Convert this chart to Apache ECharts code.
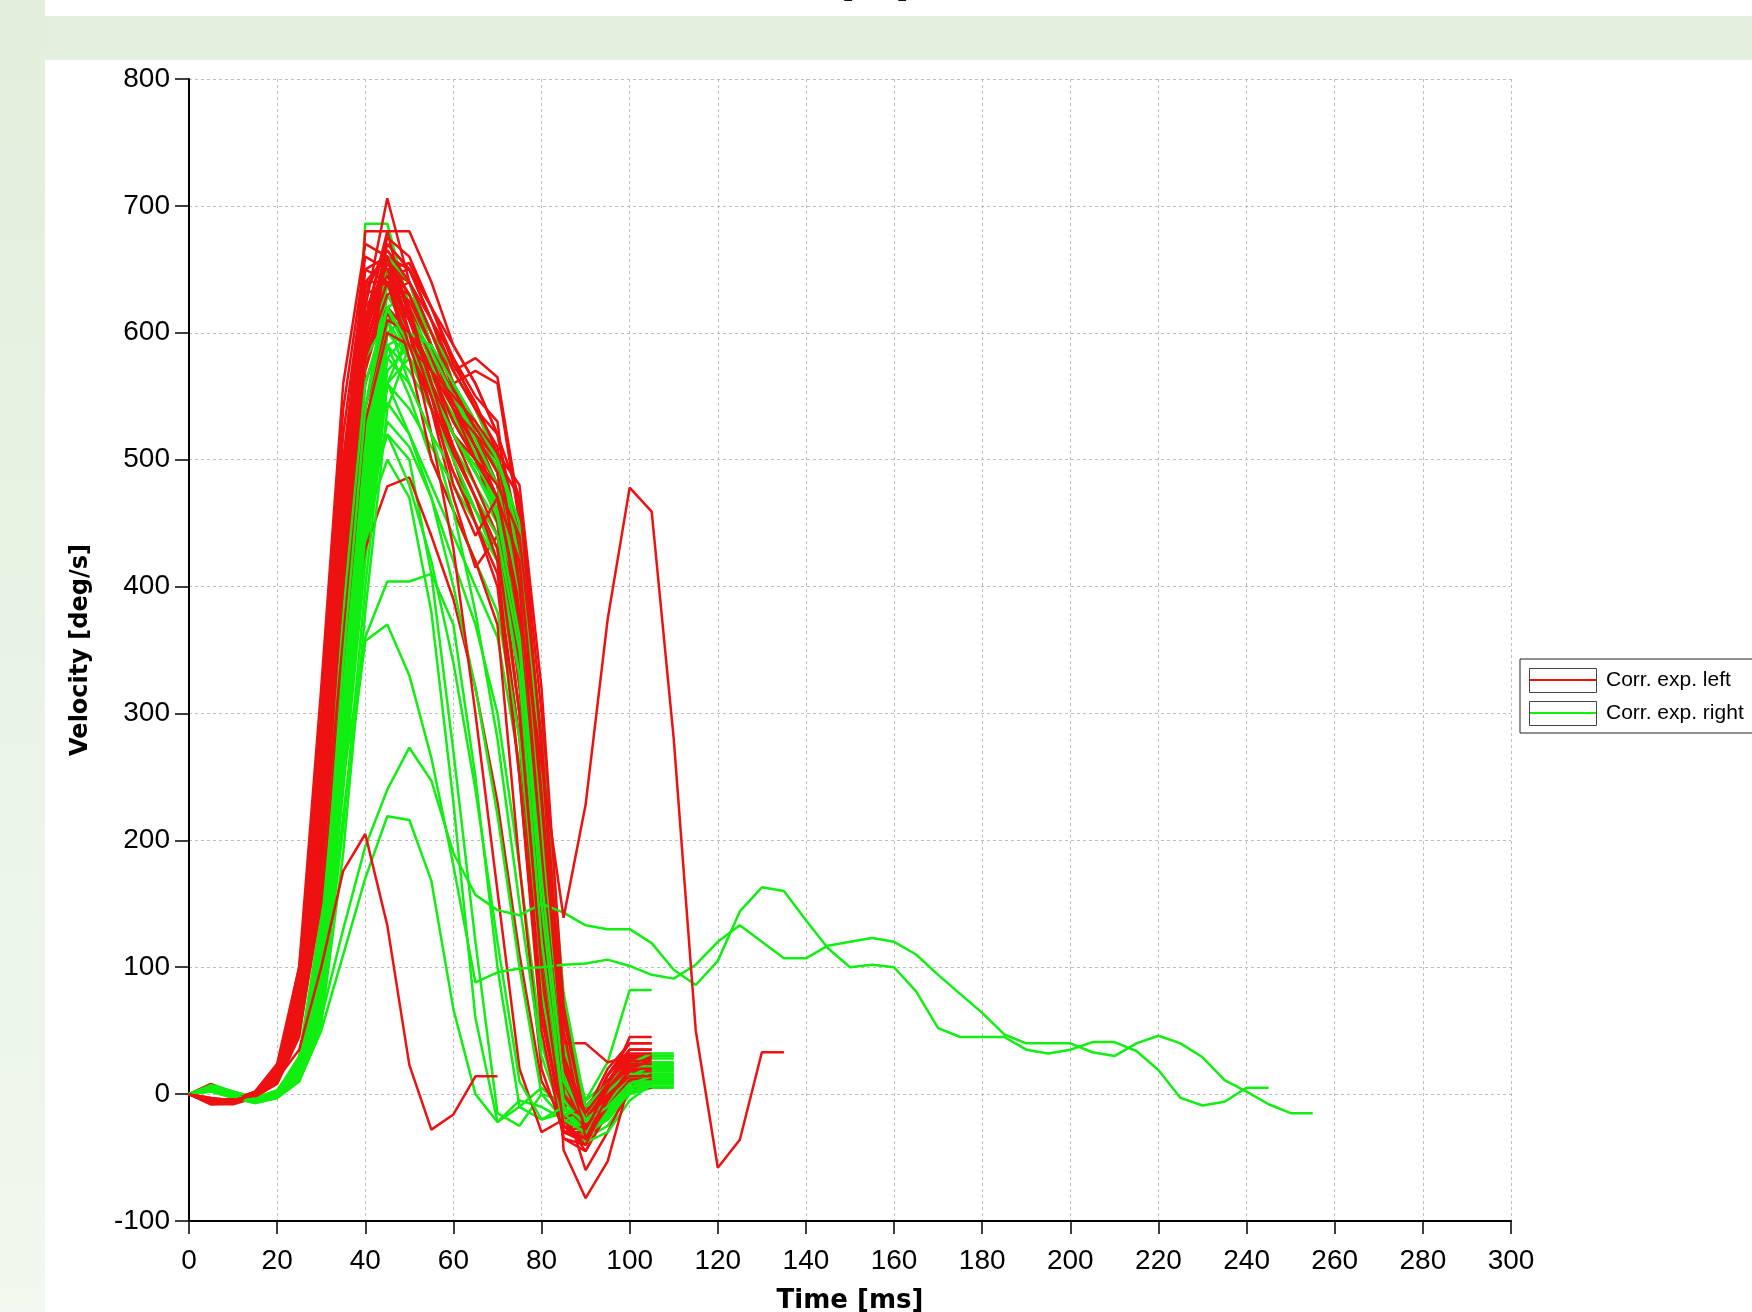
<!DOCTYPE html>
<html lang="en">
<head>
    <meta charset="UTF-8">
    <title>Corr. exp. velocity</title>
    <script src="https://cdn.jsdelivr.net/npm/echarts/dist/echarts.min.js"></script>
    <style>
        html, body { margin: 0; padding: 0; background: #fff; }
        #page { position: relative; width: 1752px; height: 1312px; overflow: hidden; background: #fff; }
        #strip { position: absolute; left: 0; top: 0; width: 45px; height: 1312px;
                 background: linear-gradient(#e2efdc, #f1f8ef); }
        #band { position: absolute; left: 45px; top: 16px; width: 1707px; height: 44px; background: #e4f0df; }
        #chart { position: absolute; left: 0; top: 0; width: 1752px; height: 1312px; }
    </style>
</head>
<body>
<div id="page">
    <div id="strip"></div>
    <div id="band"></div>
    <div id="chart"></div>
</div>

<script>
    // sample times [ms], 5 ms steps
    var time = [0, 5, 10, 15, 20, 25, 30, 35, 40, 45, 50, 55, 60, 65, 70, 75, 80, 85, 90, 95,
        100, 105, 110, 115, 120, 125, 130, 135, 140, 145, 150, 155, 160, 165, 170, 175, 180, 185, 190, 195,
        200, 205, 210, 215, 220, 225, 230, 235, 240, 245, 250, 255];

    // Corr. exp. left (red) velocity curves [deg/s]
    var r01 = [0, -5, -6, 0, 15, 70, 220, 430, 600, 660, 640, 600, 560, 530, 490, 380, 150, -10, -30, 5, 25, 25];
    var r02 = [0, -8, -8, -3, 10, 55, 180, 390, 580, 640, 620, 580, 540, 500, 470, 330, 110, -20, -40, 0, 20, 20];
    var r03 = [0, -3, -5, 2, 22, 95, 260, 480, 630, 670, 650, 610, 570, 540, 500, 420, 200, 10, -20, 15, 35, 35];
    var r04 = [0, 8, -2, 0, 12, 60, 200, 420, 610, 680, 680, 640, 590, 560, 520, 440, 250, 20, -25, 10, 30, 30];
    var r05 = [0, -6, -7, -2, 8, 45, 160, 370, 570, 630, 600, 560, 510, 470, 440, 300, 80, -35, -45, -10, 15, 15];
    var r06 = [0, -4, -4, 1, 18, 80, 240, 460, 620, 706, 640, 590, 550, 510, 480, 360, 130, -15, -35, 5, 20, 20];
    var r07 = [0, -5, -6, 0, 14, 65, 210, 440, 680, 680, 610, 570, 530, 500, 450, 320, 120, -5, -25, 15, 40, 40];
    var r08 = [0, -7, -5, 0, 16, 75, 230, 450, 600, 650, 655, 620, 580, 550, 530, 400, 180, 0, -20, 10, 30, 30];
    var r09 = [0, -5, -5, 1, 20, 85, 250, 470, 640, 660, 620, 560, 500, 460, 430, 300, 90, -30, -38, -5, 10, 10];
    var r10 = [0, -6, -6, -1, 12, 60, 200, 420, 590, 640, 630, 600, 570, 580, 565, 460, 230, 40, -30, 0, 25, 25];
    var r11 = [0, -4, -6, 0, 15, 70, 215, 435, 600, 650, 620, 580, 540, 510, 470, 360, 150, -20, -45, -15, 8, 8];
    var r12 = [0, -8, -7, -2, 10, 50, 175, 400, 590, 645, 650, 610, 560, 520, 490, 390, 170, 0, -30, 5, 45, 45];
    var r13 = [0, -5, -4, 2, 24, 100, 275, 500, 650, 660, 630, 590, 540, 500, 470, 340, 120, -25, -40, 0, 20, 20];
    var r14 = [0, -3, -5, 0, 14, 65, 200, 420, 580, 620, 600, 560, 520, 490, 460, 350, 140, -10, -25, 15, 35, 35];
    var r15 = [0, -6, -6, -1, 13, 60, 195, 410, 585, 655, 640, 600, 555, 525, 500, 410, 210, 20, -15, 20, 40, 40];
    var r16 = [0, -5, -6, 0, 12, 50, 165, 330, 430, 479, 486, 440, 390, 320, 230, 110, 10, -20, -30, 0, 20, 20];
    var r17 = [0, -4, -5, 1, 17, 75, 225, 445, 610, 650, 600, 540, 470, 415, 440, 390, 200, 10, -30, 0, 25, 25];
    var r18 = [0, -6, -6, -1, 11, 55, 185, 400, 575, 640, 625, 590, 550, 520, 480, 370, 160, -5, -60, -30, 5, 5];
    var r19 = [0, -5, -5, 0, 16, 70, 220, 440, 605, 660, 650, 620, 590, 560, 520, 430, 220, -44, -82, -53, 10, 10];
    var r20 = [0, -7, -6, 0, 14, 62, 205, 430, 595, 670, 650, 610, 570, 540, 510, 400, 150, -30, -30, 0, 15, 15];
    var r21 = [0, -5, -6, -1, 13, 60, 200, 425, 590, 650, 640, 590, 545, 510, 480, 380, 170, 40, 40, 25, 30, 30];
    var r22 = [0, -4, -5, 0, 15, 68, 215, 440, 600, 655, 630, 590, 550, 520, 490, 385, 160, -10, -25, 10, 35, 35];
    var r23 = [0, -6, -5, 1, 19, 88, 255, 475, 635, 665, 640, 600, 560, 570, 560, 450, 240, 30, -20, 5, 30, 30];
    var r24 = [0, -5, -7, -1, 11, 52, 175, 390, 560, 615, 590, 550, 500, 450, 410, 280, 70, -30, -35, -5, 18, 18];
    var r25 = [0, -4, -5, 0, 16, 72, 230, 455, 620, 645, 610, 570, 520, 480, 440, 330, 110, -20, -30, 8, 28, 28];
    var r26 = [0, -5, -6, 0, 13, 62, 205, 430, 610, 675, 660, 620, 575, 545, 505, 400, 190, 0, -28, 6, 22, 22];
    var r27 = [0, -6, -5, 0, 18, 90, 300, 540, 660, 650, 610, 560, 510, 470, 420, 250, 60, -25, -35, 0, 22, 22];
    var r28 = [0, -4, -6, -1, 12, 55, 170, 360, 540, 610, 600, 570, 540, 520, 500, 470, 300, 60, -20, 5, 30, 30];
    var r29 = [0, -5, -5, 0, 20, 100, 320, 560, 670, 660, 600, 520, 430, 300, 160, 20, -30, -20, -10, 10, 28, 28];
    var r30 = [0, -7, -7, -2, 9, 48, 150, 340, 530, 600, 590, 570, 550, 530, 505, 480, 320, 70, -25, -5, 18, 18];
    var r31 = [0, -5, -6, 0, 16, 78, 245, 470, 630, 640, 580, 500, 460, 420, 370, 180, 20, -30, -25, 5, 24, 24];
    var r32 = [0, -6, -5, 1, 15, 70, 230, 450, 610, 660, 620, 560, 520, 500, 480, 440, 280, 50, -35, -10, 12, 12];
    var r33 = [0, -4, -4, 1, 21, 95, 290, 520, 650, 640, 590, 540, 490, 450, 400, 250, 50, -35, -40, -5, 20, 20];
    var r34 = [0, -5, -6, -1, 13, 60, 190, 400, 580, 630, 640, 610, 580, 540, 520, 470, 270, 30, -15, 8, 32, 32];
    var r35 = [0, -6, -6, 0, 14, 66, 210, 430, 600, 660, 615, 560, 505, 470, 430, 300, 100, -25, -35, -2, 14, 14];
    var r36 = [0, -5, -5, 0, 17, 82, 265, 490, 640, 640, 600, 550, 480, 440, 470, 420, 230, 25, -28, 4, 26, 26];
    var rSpike = [0, -5, -5, 0, 14, 65, 210, 430, 590, 640, 610, 570, 530, 500, 470, 380, 260, 139, 228, 374,
        478, 459, 280, 50, -58, -36, 33, 33];
    var rLow = [0, -5, -6, 0, 12, 35, 100, 176, 205, 133, 23, -28, -16, 14, 14];

    // Corr. exp. right (green) velocity curves [deg/s]
    var g01 = [0, 5, 0, -5, 0, 20, 90, 280, 470, 600, 590, 560, 530, 500, 470, 380, 180, 20, -20, -10, 10, 15, 15];
    var g02 = [0, 8, 2, -3, 2, 25, 100, 300, 500, 620, 600, 570, 540, 510, 480, 400, 210, 40, -15, 0, 15, 20, 20];
    var g03 = [0, 3, -2, -6, -2, 15, 75, 250, 440, 580, 600, 570, 530, 500, 460, 370, 160, 10, -25, -15, 5, 10, 10];
    var g04 = [0, 6, 1, -4, 1, 22, 120, 420, 686, 686, 620, 575, 550, 520, 490, 410, 230, 50, -10, 5, 20, 25, 25];
    var g05 = [0, 4, -1, -5, 0, 18, 85, 270, 460, 590, 570, 540, 510, 480, 450, 350, 140, 0, -30, -20, 0, 5, 5];
    var g06 = [0, 7, 2, -3, 3, 28, 110, 320, 520, 630, 600, 575, 550, 530, 500, 420, 240, 60, -5, 10, 25, 30, 30];
    var g07 = [0, 5, 0, -4, 0, 20, 90, 275, 465, 610, 620, 590, 560, 520, 480, 390, 190, 30, -20, -5, 15, 20, 20];
    var g08 = [0, 2, -3, -7, -3, 12, 70, 240, 420, 560, 580, 560, 520, 490, 460, 360, 150, 5, -35, -25, 0, 10, 10];
    var g09 = [0, 6, 1, -4, 1, 24, 98, 295, 495, 640, 610, 580, 555, 525, 495, 415, 225, 45, -12, 5, 22, 28, 28];
    var g10 = [0, 4, -1, -5, -1, 17, 80, 260, 450, 590, 600, 575, 540, 505, 470, 385, 185, 25, -22, -10, 12, 18, 18];
    var g11 = [0, 5, 0, -5, 0, 20, 88, 285, 480, 610, 580, 550, 520, 495, 470, 390, 200, 30, -18, -8, 12, 16, 16];
    var g12 = [0, 3, -2, -6, -2, 14, 72, 245, 430, 570, 590, 565, 535, 500, 465, 375, 175, 15, -28, -18, 5, 12, 12];
    var g13 = [0, 5, 0, -5, 0, 20, 90, 290, 470, 520, 500, 410, 270, 120, -15, -25, 0, -5, -20, -10, 10, 15, 15];
    var g14 = [0, 4, -1, -6, -1, 16, 80, 260, 450, 500, 470, 380, 230, 60, -22, -10, 5, -10, -25, -15, 5, 12, 12];
    var g15 = [0, 5, 0, -5, 0, 18, 80, 250, 360, 404, 404, 410, 370, 250, 100, -10, -20, -15, -25, -10, 10, 15, 15];
    var g16 = [0, 2, -3, -7, -3, 10, 50, 110, 170, 219, 216, 168, 67, 0, -22, -5, -10, -20, -30, -15, 5, 10, 10];
    var g17 = [0, 5, 0, -5, 0, 20, 92, 285, 480, 600, 580, 550, 520, 490, 460, 380, 180, 30, -5, 25, 82, 82];
    var g18 = [0, 6, 1, -4, 1, 24, 100, 300, 500, 650, 640, 600, 560, 530, 500, 430, 260, 70, -10, 0, 20, 30, 30];
    var g19 = [0, 4, -1, -5, 0, 19, 85, 265, 455, 560, 540, 510, 480, 450, 420, 330, 120, -10, -38, -30, -5, 8, 8];
    var g20 = [0, 5, 0, -4, 1, 22, 95, 290, 490, 620, 630, 600, 570, 540, 500, 420, 220, 40, -15, 0, 18, 22, 22];
    var g21 = [0, 3, -2, -6, -1, 15, 75, 255, 440, 530, 510, 470, 420, 370, 300, 180, 40, -20, -30, -15, 5, 10, 10];
    var g22 = [0, 6, 0, -5, 1, 23, 96, 300, 510, 660, 640, 590, 550, 520, 490, 400, 200, 35, -20, -5, 15, 25, 25];
    var g23 = [0, 4, -1, -6, -1, 16, 78, 255, 445, 600, 615, 585, 550, 515, 480, 395, 200, 30, -25, -12, 8, 14, 14];
    var g24 = [0, 5, 1, -4, 0, 21, 92, 285, 485, 545, 520, 480, 440, 400, 360, 260, 80, -15, -30, -20, 2, 6, 6];
    var g25 = [0, 5, 0, -5, 0, 26, 130, 360, 560, 620, 580, 540, 500, 460, 420, 300, 110, -10, -30, -15, 5, 14, 14];
    var g26 = [0, 4, -1, -5, 0, 20, 95, 320, 540, 640, 600, 560, 510, 470, 440, 350, 150, 0, -28, -12, 8, 18, 18];
    var g27 = [0, 6, 1, -4, 2, 30, 140, 380, 580, 610, 560, 520, 490, 460, 430, 330, 120, -5, -25, -8, 12, 20, 20];
    var g28 = [0, 3, -2, -6, -2, 10, 55, 190, 380, 540, 590, 570, 550, 520, 500, 440, 260, 60, -15, 2, 18, 24, 24];
    var g29 = [0, 5, 0, -5, 0, 18, 80, 260, 450, 560, 520, 470, 400, 320, 220, 100, 0, -20, -30, -18, 4, 10, 10];
    var g30 = [0, 4, -1, -6, -1, 14, 65, 210, 400, 560, 600, 590, 560, 530, 500, 450, 280, 80, -10, 8, 24, 32, 32];
    var g31 = [0, 5, 0, -4, 1, 22, 100, 310, 510, 590, 550, 500, 460, 420, 380, 280, 100, -15, -32, -20, 2, 8, 8];
    var g32 = [0, 3, -2, -6, -1, 16, 78, 270, 470, 580, 560, 520, 460, 380, 280, 150, 30, -20, -30, -15, 5, 12, 12];
    var g33 = [0, 6, 1, -4, 1, 25, 110, 340, 540, 620, 590, 555, 520, 490, 455, 360, 170, 10, -20, -6, 14, 22, 22];
    var g34 = [0, 4, -1, -5, 0, 18, 85, 270, 460, 520, 480, 420, 340, 240, 120, 10, -20, -10, -22, -10, 8, 14, 14];
    var gLongA = [0, 3, -2, -6, -2, 12, 60, 130, 195, 240, 273, 247, 190, 157, 145, 141, 150, 143, 133, 130,
        130, 119, 98, 86, 105, 144, 163, 160, 137, 115, 100, 102, 100, 81, 52, 45, 45, 45, 35, 32,
        35, 41, 41, 34, 19, -3, -9, -6, 5, 5];
    var gLongB = [0, 4, -1, -5, -1, 15, 70, 220, 357, 370, 330, 265, 180, 88, 96, 99, 100, 102, 103, 106,
        101, 94, 91, 102, 120, 133, 120, 107, 107, 117, 120, 123, 120, 110, 94, 79, 64, 47, 40, 40,
        40, 33, 30, 40, 46, 40, 29, 11, 2, -8, -15, -15];

    var leftCurves = [r01, r02, r03, r04, r05, r06, r07, r08, r09, r10, r11, r12, r13, r14, r15, r16, r17, r18,
        r19, r20, r21, r22, r23, r24, r25, r26, r27, r28, r29, r30, r31, r32, r33, r34, r35, r36, rSpike, rLow];
    var rightCurves = [g01, g02, g03, g04, g05, g06, g07, g08, g09, g10, g11, g12, g13, g14, g15, g16, g17,
        g18, g19, g20, g21, g22, g23, g24, g25, g26, g27, g28, g29, g30, g31, g32, g33, g34, gLongA, gLongB];

    var leftName = 'Corr. exp. left';
    var rightName = 'Corr. exp. right';
    var red = '#ee1111';
    var green = '#11ee11';

    function makeSeries(curve, name, color) {
        return {
            type: 'line',
            name: name,
            data: curve.map(function (v, i) { return [time[i], v]; }),
            showSymbol: false,
            symbol: 'none',
            color: color,
            lineStyle: {width: 2.5, color: color},
            emphasis: {disabled: true},
            animation: false
        };
    }

    // mix the two groups so neither sits fully on top
    var series = [];
    var n = Math.max(leftCurves.length, rightCurves.length);
    for (var i = 0; i < n; i++) {
        if (i < rightCurves.length) series.push(makeSeries(rightCurves[i], rightName, green));
        if (i < leftCurves.length) series.push(makeSeries(leftCurves[i], leftName, red));
    }

    var tickFont = {fontFamily: 'Liberation Sans', fontSize: 28, color: '#000'};
    var nameFont = {fontFamily: 'DejaVu Sans', fontWeight: 'bold', color: '#000'};
    var gridLine = {show: true, lineStyle: {color: '#bdbdbd', width: 1, type: [3, 3]}};

    var chart = echarts.init(document.getElementById('chart'), null, {renderer: 'canvas'});
    chart.setOption({
        animation: false,
        grid: {left: 189, right: 241, top: 79, bottom: 91, outerBoundsMode: 'none'},
        xAxis: {
            type: 'value', min: 0, max: 300, interval: 20,
            name: 'Time [ms]', nameLocation: 'middle', nameGap: 67,
            nameTextStyle: Object.assign({fontSize: 26}, nameFont),
            axisLine: {show: true, onZero: false, lineStyle: {color: '#000', width: 2}},
            axisTick: {show: true, length: 13, lineStyle: {color: '#000', width: 1.5}},
            axisLabel: Object.assign({margin: 26}, tickFont),
            splitLine: gridLine
        },
        yAxis: {
            type: 'value', min: -100, max: 800, interval: 100,
            name: 'Velocity [deg/s]', nameLocation: 'middle', nameGap: 96,
            nameTextStyle: Object.assign({fontSize: 24}, nameFont),
            axisLine: {show: true, onZero: false, lineStyle: {color: '#000', width: 2}},
            axisTick: {show: true, length: 14, lineStyle: {color: '#000', width: 1.5}},
            axisLabel: Object.assign({margin: 19}, tickFont),
            splitLine: gridLine
        },
        legend: {
            data: [leftName, rightName],
            orient: 'vertical',
            left: 1520, top: 659,
            padding: [9, 10, 8, 9],
            itemGap: 9, itemWidth: 67, itemHeight: 24,
            borderColor: '#222', borderWidth: 1, backgroundColor: '#fff',
            itemStyle: {opacity: 0},
            textStyle: {fontFamily: 'Liberation Sans', fontSize: 21, lineHeight: 24, color: '#000',
                padding: [0, 0, 0, 4]}
        },
        graphic: [
            // frames round the legend swatches
            {type: 'rect', z: 100, shape: {x: 1529.5, y: 668.5, width: 67, height: 24},
                style: {fill: 'none', stroke: '#444', lineWidth: 1}},
            {type: 'rect', z: 100, shape: {x: 1529.5, y: 701.5, width: 67, height: 24},
                style: {fill: 'none', stroke: '#444', lineWidth: 1}},
            // bottom edge of the chart above, cut off by the page
            {type: 'text', z: 100, style: {text: 'Time [ms]', x: 835, y: -9.5, align: 'center',
                verticalAlign: 'middle', font: 'bold 26px "DejaVu Sans"', fill: '#111'}}
        ],
        series: series
    });
</script>
</body>
</html>
